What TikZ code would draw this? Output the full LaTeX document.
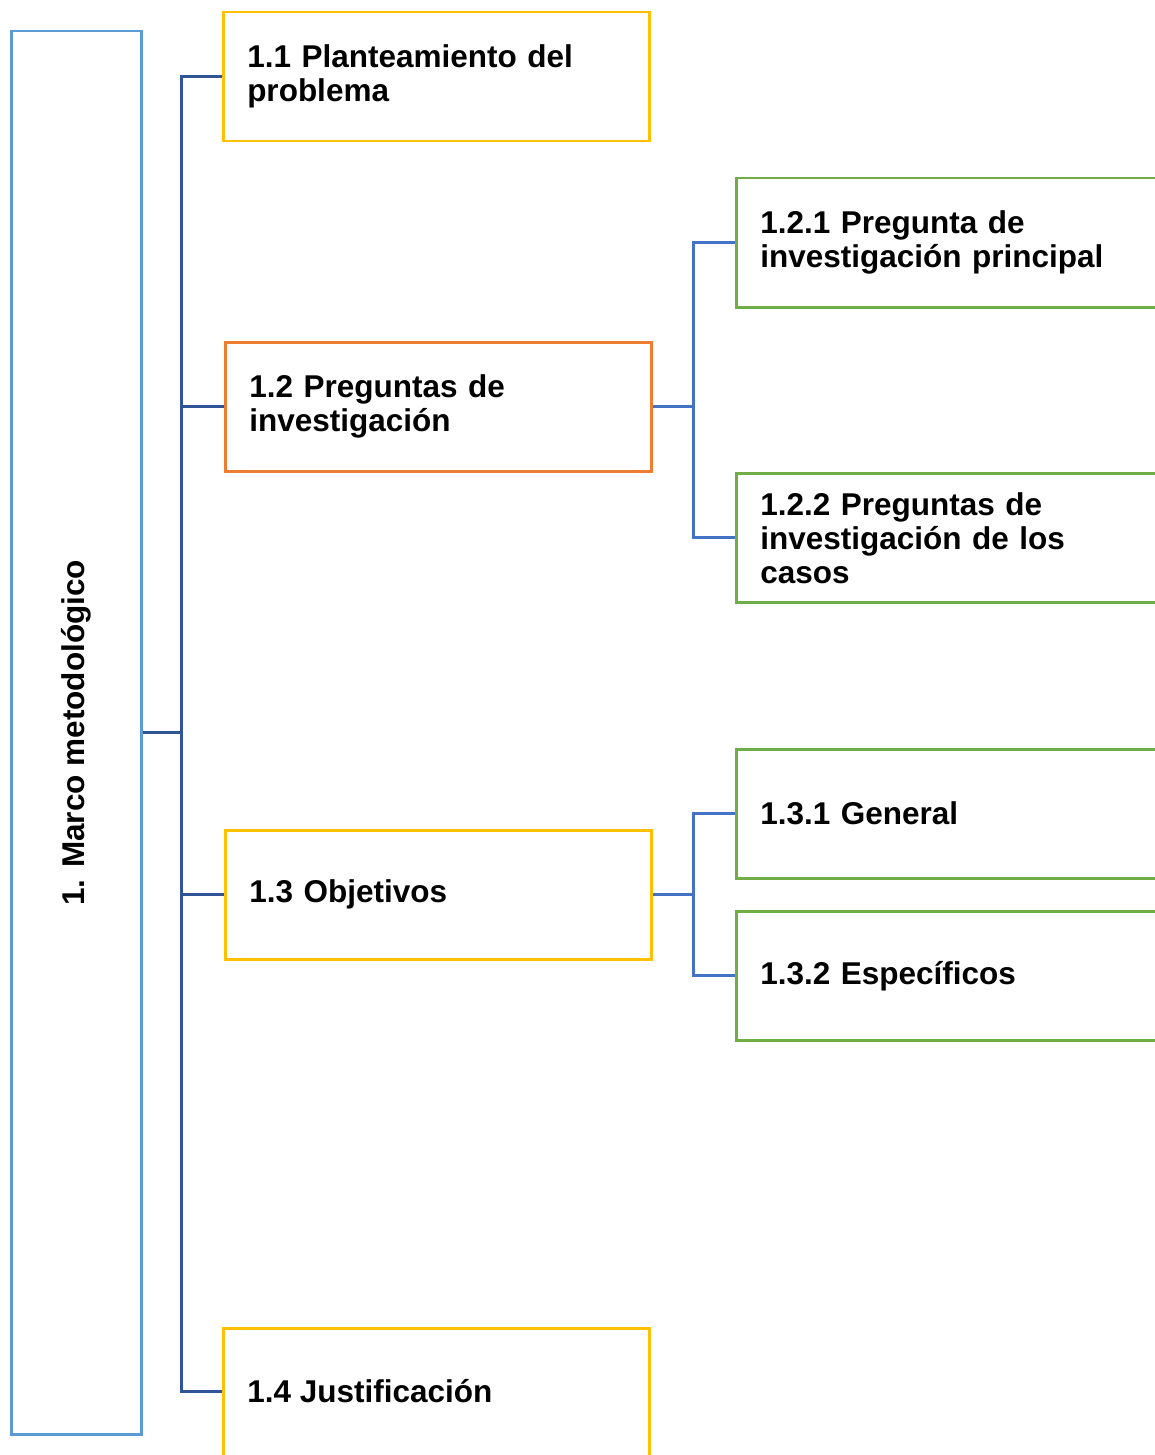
\documentclass[tikz,border=0pt]{standalone}
\usepackage{fontspec}
\setmainfont{Liberation Sans}
\definecolor{mainblue}{HTML}{5B9BD5}
\definecolor{trunkblue}{HTML}{2F5597}
\definecolor{subblue}{HTML}{4472C4}
\definecolor{gold}{HTML}{FFC000}
\definecolor{orangebox}{HTML}{ED7D31}
\definecolor{greenbox}{HTML}{70AD47}
\begin{document}
\begin{tikzpicture}[x=1pt,y=-1pt,
  lbl/.style={font=\fontsize{31.5}{34}\selectfont\bfseries, align=left, inner ysep=0pt, inner xsep=24pt, anchor=north west, line width=2.5pt},
  midbox/.style={lbl, text width=378pt, minimum height=129pt},
  leafbox/.style={lbl, draw=greenbox, text width=400pt, minimum height=129pt},
  trunk/.style={draw=trunkblue, line width=3pt},
  sub/.style={draw=subblue, line width=3pt}]
\useasboundingbox (0,0) rectangle (1155,1455);
\clip (0,0) rectangle (1155,1455);

% root box with rotated title
\node[draw=mainblue, line width=2.5pt, minimum width=130pt, minimum height=1403pt, anchor=north west, inner sep=0pt] (main) at (10,30) {};
\node[rotate=90, font=\fontsize{31.5}{34}\selectfont\bfseries] (maint) at (main.center) {1. Marco metodológico};

% second level
\node[midbox, draw=gold] (b11) at (222,11) {1.1 Planteamiento del\\problema};
\node[midbox, draw=orangebox] (b12) at (224,341) {1.2 Preguntas de\\investigación};
\node[midbox, draw=gold] (b13) at (224,829) {1.3 Objetivos};
\node[midbox, draw=gold, minimum height=200pt] (b14box) at (222,1327) {};
\node[lbl, anchor=west] (b14) at (222,1391) {1.4 Justificación};

% third level
\node[leafbox] (b121) at (735,177) {1.2.1 Pregunta de\\investigación principal};
\node[leafbox] (b122) at (735,472) {1.2.2 Preguntas de\\investigación de los\\casos};
\node[leafbox] (b131) at (735,748) {1.3.1 General};
\node[leafbox] (b132) at (735,910) {1.3.2 Específicos};

% main trunk
\coordinate (tk) at (181,0);
\draw[trunk] (b11.west) -| (tk |- b14.west) -- (b14.west);
\draw[trunk] (main.east) -- (tk |- main.east);
\draw[trunk] (b12.west) -- (tk |- b12.west);
\draw[trunk] (b13.west) -- (tk |- b13.west);

% sub trunks
\coordinate (sk) at (693,0);
\draw[sub] (b121.west) -| (sk |- b122.west) -- (b122.west);
\draw[sub] (b12.east) -- (sk |- b12.east);
\draw[sub] (b131.west) -| (sk |- b132.west) -- (b132.west);
\draw[sub] (b13.east) -- (sk |- b13.east);
\end{tikzpicture}
\end{document}
